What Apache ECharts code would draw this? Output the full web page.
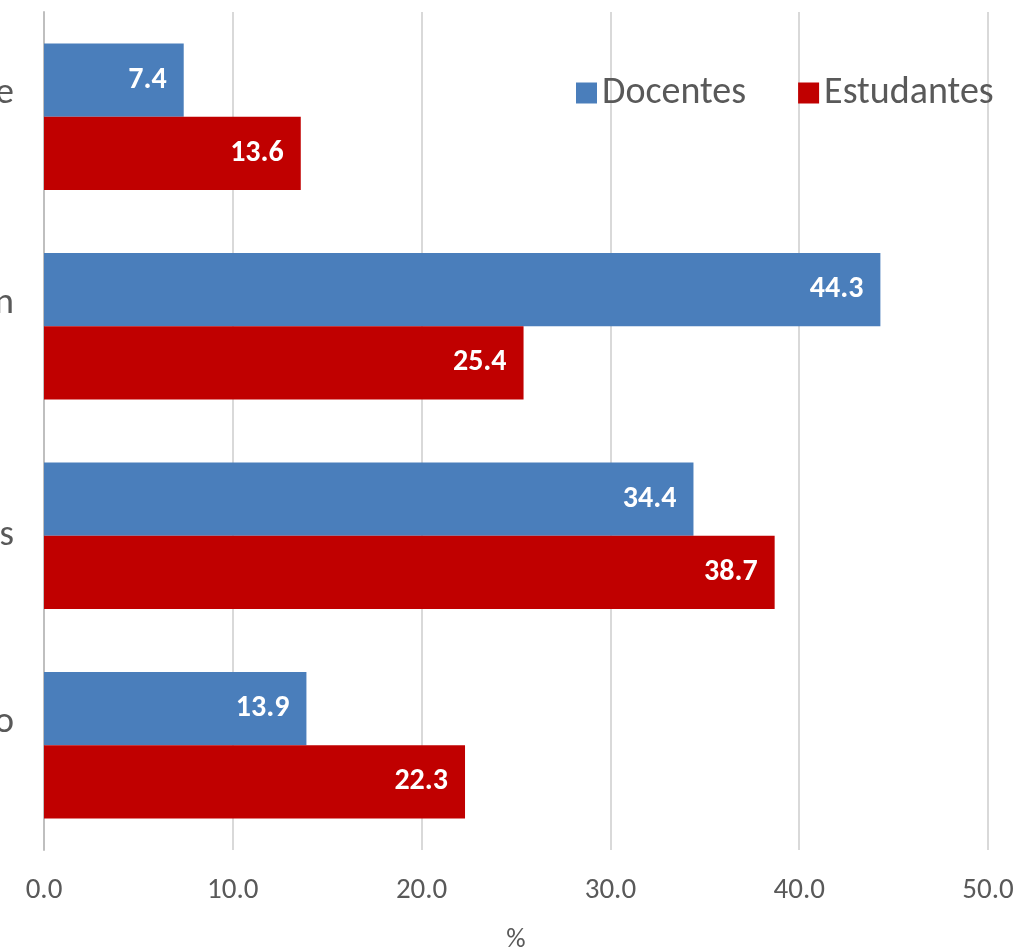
<!DOCTYPE html>
<html>
<head>
<meta charset="utf-8">
<script src="https://cdn.jsdelivr.net/npm/echarts@6/dist/echarts.min.js"></script>
<style>
  html, body { margin: 0; padding: 0; background: #fff; }
  #chart { width: 1022px; height: 948px; }
</style>
</head>
<body>
<div id="chart"></div>
<script>
// Response categories (listed top to bottom); '\n' splits a label over lines
const categories = [
  'Uso muito frequente\n(diário)',
  'Uso em contexto de Design\n(projetos)',
  'Às vezes',
  'Uso raro ou nulo\n(nunca)'
];
// Percentages per group
const docentes = [7.4, 44.3, 34.4, 13.9];
const estudantes = [13.6, 25.4, 38.7, 22.3];
// Value axis ticks
const xTicks = { min: 0, max: 50, interval: 10 };

const FONT = "Calibri, Carlito, 'Liberation Sans', Arial, sans-serif";
const TEXT = '#595959';

const chart = echarts.init(document.getElementById('chart'), null, { renderer: 'canvas' });

const barLabel = {
  show: true,
  position: 'insideRight',
  distance: 17,
  color: '#fff',
  fontFamily: FONT,
  fontWeight: 'bold',
  fontSize: 30,
  formatter: p => p.value.toFixed(1)
};

chart.setOption({
  animation: false,
  backgroundColor: '#fff',
  grid: { left: 44, right: 34, top: 12, bottom: 98, containLabel: false, outerBoundsMode: 'none' },
  legend: {
    top: 69,
    left: 571,
    itemWidth: 21,
    itemHeight: 21,
    itemGap: 52,
    icon: 'rect',
    textStyle: { fontFamily: FONT, fontSize: 38, color: TEXT },
    data: ['Docentes', 'Estudantes']
  },
  xAxis: {
    type: 'value',
    min: xTicks.min,
    max: xTicks.max,
    interval: xTicks.interval,
    name: '%',
    nameLocation: 'middle',
    nameGap: 77,
    nameTextStyle: { fontFamily: FONT, fontSize: 27, color: TEXT },
    axisLine: { show: false },
    axisTick: { show: false },
    axisLabel: {
      margin: 26,
      fontFamily: FONT,
      fontSize: 29,
      color: TEXT,
      formatter: v => v.toFixed(1)
    },
    splitLine: { show: true, lineStyle: { color: '#d9d9d9', width: 2 } }
  },
  yAxis: {
    type: 'category',
    inverse: true,
    data: categories,
    axisLine: { show: true, lineStyle: { color: '#bfbfbf', width: 2 } },
    axisTick: { show: false },
    axisLabel: {
      margin: 30,
      // each line centred within the label block
      formatter: v => v.split('\n').map(s => '{c|' + s + '}').join('\n'),
      rich: {
        c: { align: 'center', fontFamily: FONT, fontSize: 37, color: TEXT, lineHeight: 46 }
      }
    }
  },
  series: [
    {
      name: 'Docentes',
      type: 'bar',
      data: docentes,
      barGap: '0%',
      barCategoryGap: '30%',
      itemStyle: { color: '#4a7ebb' },
      label: barLabel
    },
    {
      name: 'Estudantes',
      type: 'bar',
      data: estudantes,
      barGap: '0%',
      barCategoryGap: '30%',
      itemStyle: { color: '#c00000' },
      label: barLabel
    }
  ]
});
</script>
</body>
</html>
